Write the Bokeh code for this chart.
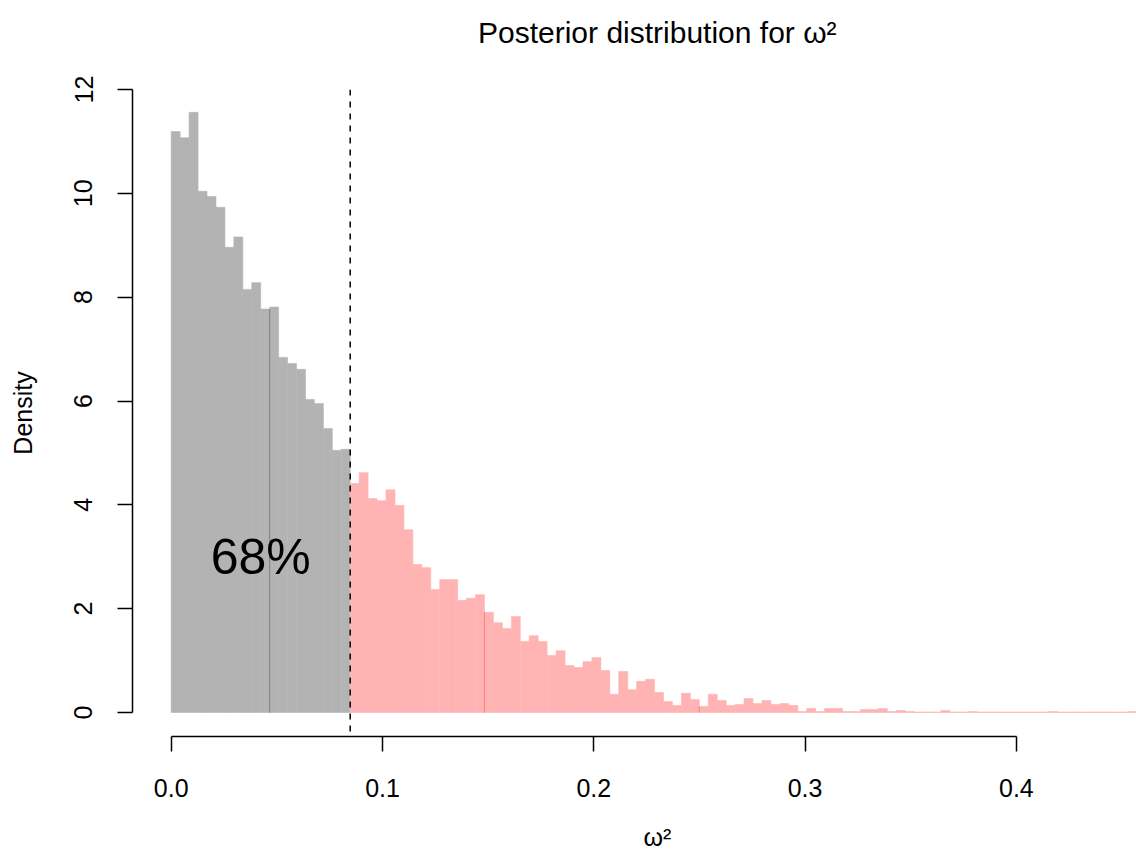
import math
from bokeh.plotting import figure
from bokeh.models import (Range1d, FixedTicker, Span, Label, ColumnDataSource,
                          LinearAxis, Title)
from bokeh.embed import file_html
from bokeh.resources import INLINE

# ---------------- data ----------------
bin_width = 0.004236          # histogram bin width (omega^2 units)
quantile_68 = 0.08471         # 68% posterior quantile (dashed line)
n_lower = 20                  # bins below the quantile (grey)
density = [
    11.19, 11.07, 11.56, 10.04, 9.94, 9.73, 8.96, 9.16, 8.15, 8.28,
    7.77, 7.81, 6.84, 6.72, 6.61, 6.03, 5.95, 5.47, 5.05, 5.07,
    4.41, 4.62, 4.12, 4.08, 4.29, 3.99, 3.52, 2.85, 2.79, 2.37,
    2.56, 2.56, 2.16, 2.20, 2.27, 1.93, 1.73, 1.62, 1.85, 1.37,
    1.48, 1.37, 1.10, 1.19, 0.905, 0.867, 0.98, 1.06, 0.81, 0.35,
    0.79, 0.44, 0.60, 0.64, 0.385, 0.21, 0.135, 0.37, 0.25, 0.116,
    0.35, 0.23, 0.135, 0.154, 0.27, 0.173, 0.23, 0.154, 0.173, 0.135,
    0.02, 0.077, 0.02, 0.077, 0.077, 0.02, 0.02, 0.058, 0.058, 0.077,
    0.02, 0.039, 0.02, 0.01, 0.01, 0.01, 0.04, 0.01, 0.01, 0.02,
    0.01, 0.01, 0.01, 0.01, 0.01, 0.01, 0.01, 0.01, 0.02, 0.01,
    0.01, 0.01, 0.01, 0.01, 0.01, 0.01, 0.01, 0.02,
]
seam_edges = [11, 35, 59, 83]   # bin edges where adjacent bars overlap
mass_label = "68%"
x_ticks = [0.0, 0.1, 0.2, 0.3, 0.4]
x_tick_labels = ["0.0", "0.1", "0.2", "0.3", "0.4"]
y_ticks = [0, 2, 4, 6, 8, 10, 12]
y_tick_labels = ["0", "2", "4", "6", "8", "10", "12"]
title_text = "Posterior distribution for ω²"
x_label_text = "ω²"
y_label_text = "Density"

FONT = "Liberation Sans"

left = [i * bin_width for i in range(len(density))]
right = [(i + 1) * bin_width for i in range(len(density))]

lower = ColumnDataSource(dict(left=left[:n_lower], right=right[:n_lower], top=density[:n_lower]))
upper = ColumnDataSource(dict(left=left[n_lower:], right=right[n_lower:], top=density[n_lower:]))

p = figure(width=1136, height=858,
           x_range=Range1d(-0.01832, 0.45684), y_range=Range1d(-0.4622, 12.0),
           min_border_left=132, min_border_right=0, min_border_top=89, min_border_bottom=122,
           toolbar_location=None, output_backend="svg", title=None)
p.background_fill_color = "white"
p.border_fill_color = "white"
p.outline_line_color = None
p.grid.visible = False

GREY = "#b3b3b3"
PINK = "#ffb3b3"
p.quad(left="left", right="right", bottom=0, top="top", source=lower,
       fill_color=GREY, line_color=GREY, line_width=0.6)
p.quad(left="left", right="right", bottom=0, top="top", source=upper,
       fill_color=PINK, line_color=PINK, line_width=0.6)

# darker seams where neighbouring translucent bars overlap
sx = [k * bin_width for k in seam_edges]
sy = [min(density[k - 1], density[k]) for k in seam_edges]
scol = ["#7d7d7d" if k <= n_lower else "#ff7d7d" for k in seam_edges]
p.segment(x0=sx, y0=[0] * len(sx), x1=sx, y1=sy, line_color=scol, line_width=1)

p.add_layout(Span(location=quantile_68, dimension="height", line_color="black",
                  line_width=1.5, line_dash="6 6"))

p.add_layout(Label(x=quantile_68 / 2, y=3, text=mass_label, text_font=FONT,
                   text_font_size="50px", text_align="center", text_baseline="middle",
                   text_color="black"))

# axes
xa = p.xaxis[0]
xa.ticker = FixedTicker(ticks=x_ticks)
xa.major_label_overrides = {t: l for t, l in zip(x_ticks, x_tick_labels)}
xa.bounds = (0, 0.4)
ya = p.yaxis[0]
ya.ticker = FixedTicker(ticks=y_ticks)
ya.major_label_overrides = {t: l for t, l in zip(y_ticks, y_tick_labels)}
ya.bounds = (0, 12)
ya.major_label_orientation = "vertical"
ya.axis_label = y_label_text
for ax in (xa, ya):
    ax.axis_line_width = 1.5
    ax.major_tick_line_width = 1.5
    ax.major_tick_out = 15
    ax.major_tick_in = 0
    ax.minor_tick_line_color = None
    ax.major_label_text_font = FONT
    ax.major_label_text_font_size = "25px"
    ax.major_label_text_color = "black"
    ax.axis_line_color = "black"
    ax.major_tick_line_color = "black"
    ax.axis_label_text_font = FONT
    ax.axis_label_text_font_size = "25px"
    ax.axis_label_text_font_style = "normal"
    ax.axis_label_text_color = "black"
xa.major_label_standoff = 27
ya.major_label_standoff = 25
ya.axis_label_standoff = 35


def spacer(size):
    # a blank axis (one white tick, labels not drawn) used only to reserve
    # space in a side panel
    return LinearAxis(ticker=FixedTicker(ticks=[x_ticks[0]]), major_tick_out=size,
                      major_tick_in=0, major_label_standoff=0,
                      major_label_text_font_size="0px", major_label_text_color=None,
                      axis_line_color=None, major_tick_line_color="white",
                      minor_tick_line_color=None)


# x-axis title, below the tick labels
p.add_layout(spacer(21), "below")
p.add_layout(Title(text=x_label_text, align="left", offset=511, standoff=0,
                   vertical_align="bottom", text_font=FONT, text_font_size="25px",
                   text_font_style="normal", text_color="black"), "below")

# main title
p.add_layout(spacer(41), "above")
p.add_layout(Title(text=title_text, align="left", offset=345.5, standoff=0,
                   vertical_align="bottom", text_font=FONT, text_font_size="30px",
                   text_font_style="normal", text_color="black"), "above")

open("out.html", "w").write(file_html(p, INLINE))
